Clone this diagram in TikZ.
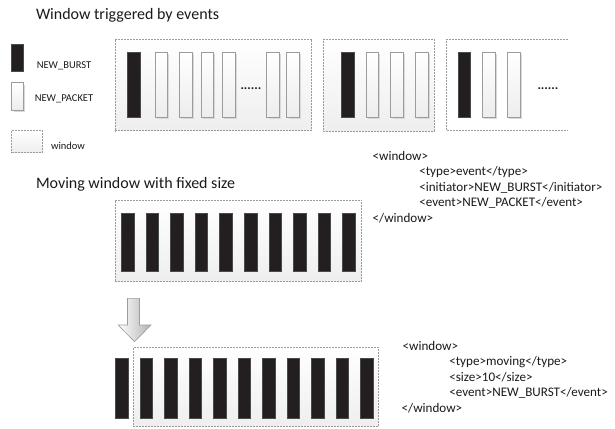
\documentclass[tikz,border=0pt]{standalone}
\usepackage{fontspec}
\setmainfont{Carlito}
\usetikzlibrary{shadows}
\definecolor{barblack}{HTML}{231F20}
\definecolor{baredge}{HTML}{4A4A4A}
\definecolor{edgegray}{HTML}{9C9C9C}
\definecolor{winbot}{HTML}{EEEEEE}
\definecolor{pktbot}{HTML}{EDEDED}
\definecolor{txt}{HTML}{1A1A1A}
\begin{document}
\begin{tikzpicture}[x=1pt,y=-1pt,
  every node/.style={inner sep=0pt,outer sep=0pt,text=txt},
  burst/.style={draw=baredge,fill=barblack,line width=0.5pt,
    minimum width=12.5pt,anchor=north west},
  packet/.style={draw=edgegray,line width=0.6pt,top color=white,bottom color=pktbot,
    minimum width=12.5pt,anchor=north west,
    drop shadow={shadow xshift=1.8pt,shadow yshift=-1.8pt,fill=black!15,opacity=1}},
  win/.style={draw=edgegray,line width=0.6pt,dash pattern=on 2pt off 1pt,
    top color=white,middle color=white,bottom color=winbot,anchor=north west},
  windash/.style={draw=edgegray,line width=0.6pt,dash pattern=on 2pt off 1pt},
  heading/.style={anchor=base west,font=\fontsize{16}{19}\selectfont},
  legendtext/.style={anchor=base,font=\fontsize{10.5}{12}\selectfont},
  xml/.style={anchor=base west,font=\fontsize{13.1}{15}\selectfont},
  ellipsis/.style={anchor=base west,font=\fontsize{13}{15}\selectfont\bfseries},
  downarrow/.style={draw=edgegray,line width=0.6pt,left color=white,right color=black!30}
]
\useasboundingbox[fill=white] (0,0) rectangle (615,428);

% ---------- headings ----------
\node[heading] (t1) at (36,20) {Window triggered by events};
\node[heading] (t2) at (36,188) {Moving window with fixed size};

% ---------- legend ----------
\node[burst,minimum height=27.4pt] (lgb) at (11,44.3) {};
\node[legendtext] (lgbt) at (64,68.5) {NEW\_BURST};
\node[packet,minimum width=11.6pt,minimum height=27.3pt] (lgp) at (11.7,82.7) {};
\node[legendtext] (lgpt) at (64,101.8) {NEW\_PACKET};
\node[win,minimum width=31pt,minimum height=21.6pt] (lgw) at (11.7,130.7) {};
\node[legendtext,anchor=base west] (lgwt) at (51,149) {window};

% ---------- event windows ----------
\node[win,minimum width=196.7pt,minimum height=91.4pt] (w1) at (115,39.3) {};
\node[burst,minimum height=64.6pt] (w1b) at (127.3,52.7) {};
\foreach \px [count=\i] in {155,179.3,201,222.3,266.7,286.7}
  \node[packet,minimum height=64.6pt] (w1p\i) at (\px,52.7) {};
\node[ellipsis] (w1dots) at (240.5,89.5) {......};

\node[win,minimum width=111pt,minimum height=91.7pt] (w2) at (323.3,39.3) {};
\node[burst,minimum height=64.6pt] (w2b) at (341.7,52.7) {};
\foreach \px [count=\i] in {366,390.7,415.3}
  \node[packet,minimum height=64.6pt] (w2p\i) at (\px,52.7) {};

% third window runs on to the right, so its right side stays open
\draw[windash] (568.3,39.3) -| (446.7,130.3) -- (568.3,130.3);
\node[burst,minimum height=64.6pt] (w3b) at (458.2,52.7) {};
\foreach \px [count=\i] in {482.6,507.3}
  \node[packet,minimum height=64.6pt] (w3p\i) at (\px,52.7) {};
\node[ellipsis] (w3dots) at (537.5,89.5) {......};

% ---------- event window description ----------
\node[xml] (x1a) at (372.7,160.5) {<window>};
\node[xml] (x1b) at (419.3,175.9) {<type>event</type>};
\node[xml] (x1c) at (419.3,191.3) {<initiator>NEW\_BURST</initiator>};
\node[xml] (x1d) at (419.3,206.7) {<event>NEW\_PACKET</event>};
\node[xml] (x1e) at (372.7,222.1) {</window>};

% ---------- moving window ----------
\node[win,minimum width=246.7pt,minimum height=81.7pt] (m1) at (115,200) {};
\foreach \k in {0,...,9}
  \node[burst,minimum height=58.2pt] (m1b\k) at (121.7+24.51*\k,213.3) {};

\draw[downarrow] (127.5,298.3) -- (139.5,298.3) -- (139.5,325) -- (151,325)
  -- (134.5,341.7) -- (118.2,325) -- (127.5,325) -- cycle;

\node[win,minimum width=245pt,minimum height=79.4pt] (m2) at (133.3,347.3) {};
\foreach \k in {0,...,10}
  \node[burst,minimum height=60pt] (m2b\k) at (115.7+24.5*\k,358.3) {};

% ---------- moving window description ----------
\node[xml] (x2a) at (402.7,350) {<window>};
\node[xml] (x2b) at (449.3,365.5) {<type>moving</type>};
\node[xml] (x2c) at (449.3,381) {<size>10</size>};
\node[xml] (x2d) at (449.3,396.5) {<event>NEW\_BURST</event>};
\node[xml] (x2e) at (401.7,412) {</window>};
\end{tikzpicture}
\end{document}
